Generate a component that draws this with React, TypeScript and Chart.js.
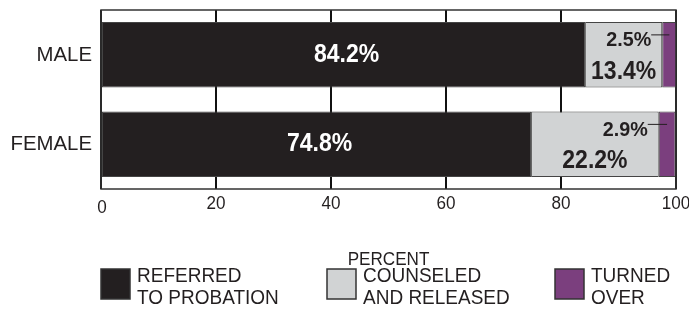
import React, { useEffect, useRef } from "react";
import { Chart, registerables } from "chart.js";

Chart.register(...registerables);

const categories = ["MALE", "FEMALE"];
const seriesNames = ["REFERRED\nTO PROBATION", "COUNSELED\nAND RELEASED", "TURNED\nOVER"];
const referred = [84.2, 74.8];
const counseled = [13.4, 22.2];
const turnedOver = [2.5, 2.9];
const xTicks = [0, 20, 40, 60, 80, 100];
const xTitle = "PERCENT";

const COLORS = ["#231f20", "#d1d3d4", "#7b3f7e"];
const FONT = '"Liberation Sans", Arial, Helvetica, sans-serif';

function txt(
  ctx: CanvasRenderingContext2D,
  s: string,
  x: number,
  y: number,
  size: number,
  bold: boolean,
  color: string,
  align: CanvasTextAlign,
  sx = 1,
  baseline: CanvasTextBaseline = "middle"
) {
  ctx.save();
  ctx.translate(x, y);
  ctx.scale(sx, 1);
  ctx.font = `${bold ? "bold " : ""}${size}px ${FONT}`;
  ctx.fillStyle = color;
  ctx.textAlign = align;
  ctx.textBaseline = baseline;
  ctx.fillText(s, 0, 0);
  ctx.restore();
}

const overlay = {
  id: "overlay",
  afterDatasetsDraw(chart: any) {
    const ctx: CanvasRenderingContext2D = chart.ctx;
    const ca = chart.chartArea;
    // frame
    ctx.save();
    ctx.strokeStyle = "#333";
    ctx.lineWidth = 1.5;
    ctx.strokeRect(ca.left, ca.top, ca.right - ca.left, ca.bottom - ca.top);
    ctx.restore();

    const ys = chart.scales.y;
    const m0 = chart.getDatasetMeta(0);
    const m1 = chart.getDatasetMeta(1);
    const m2 = chart.getDatasetMeta(2);
    categories.forEach((cat, i) => {
      const b0 = m0.data[i];
      const b1 = m1.data[i];
      const b2 = m2.data[i];
      const top = b0.y - b0.height / 2;
      const h = b0.height;
      // category label
      txt(ctx, cat, ca.left - 9, ys.getPixelForValue(i), 21, false, "#231f20", "right", 0.97);
      // main label
      txt(ctx, referred[i].toFixed(1) + "%", (b0.base + b0.x) / 2 + 3, b0.y, 25, true, "#ffffff", "center", 0.92);
      // counseled label
      txt(ctx, counseled[i].toFixed(1) + "%", (b1.base + b1.x) / 2, top + h * 0.76, 25, true, "#231f20", "center", 0.92);
      // turned over label
      const rx = b1.x - 11;
      const ty = top + h * 0.28;
      txt(ctx, turnedOver[i].toFixed(1) + "%", rx, ty, 21, true, "#231f20", "right", 0.94);
      ctx.save();
      ctx.strokeStyle = "#231f20";
      ctx.lineWidth = 1;
      ctx.beginPath();
      ctx.moveTo(rx, ty - 5.5);
      ctx.lineTo((b2.base + b2.x) / 2, ty - 5.5);
      ctx.stroke();
      ctx.restore();
    });
  },
  afterDraw(chart: any) {
    const ctx: CanvasRenderingContext2D = chart.ctx;
    const xs = chart.scales.x;
    const ca = chart.chartArea;
    xTicks.forEach((v) => {
      const px = xs.getPixelForValue(v);
      txt(ctx, String(v), px + (v === 0 ? 1 : 0), v === 0 ? 213 : 209, 18, false, "#231f20", "center", 0.95, "alphabetic");
    });
    txt(ctx, xTitle, (ca.left + ca.right) / 2, 265, 18, false, "#231f20", "center", 0.95, "alphabetic");

    // legend
    const boxX = [101, 327, 555];
    seriesNames.forEach((name, k) => {
      const bx = boxX[k];
      ctx.save();
      ctx.fillStyle = COLORS[k];
      ctx.fillRect(bx, 269, 29, 30);
      ctx.strokeStyle = "#333";
      ctx.lineWidth = 1.5;
      ctx.strokeRect(bx, 269, 29, 30);
      ctx.restore();
      const lines = name.split("\n");
      lines.forEach((ln, j) => {
        txt(ctx, ln, bx + 36, 282 + j * 22, 20, false, "#231f20", "left", 0.95, "alphabetic");
      });
    });
  },
};

export default function App() {
  const ref = useRef<HTMLCanvasElement>(null);
  useEffect(() => {
    document.body.style.margin = "0";
    const canvas = ref.current!;
    const chart = new Chart(canvas, {
      type: "bar",
      data: {
        labels: categories,
        datasets: [
          { label: seriesNames[0], data: referred, backgroundColor: COLORS[0] },
          { label: seriesNames[1], data: counseled, backgroundColor: COLORS[1] },
          { label: seriesNames[2], data: turnedOver, backgroundColor: COLORS[2] },
        ].map((d) => ({
          ...d,
          borderColor: "#444",
          borderWidth: 1,
          borderSkipped: false,
          barPercentage: 0.73,
          categoryPercentage: 1,
        })),
      },
      options: {
        indexAxis: "y",
        responsive: false,
        animation: false,
        devicePixelRatio: 1,
        layout: { padding: { top: 10, right: 13, left: 0, bottom: 0 } },
        plugins: { legend: { display: false }, tooltip: { enabled: false } },
        scales: {
          x: {
            stacked: true,
            min: 0,
            max: 100,
            ticks: { display: false, stepSize: 20 },
            grid: { color: "#111", lineWidth: 2, drawTicks: false },
            border: { display: false },
            afterFit: (s: any) => {
              s.height = 311 - 189;
            },
          },
          y: {
            stacked: true,
            ticks: { display: false },
            grid: { display: false, drawTicks: false },
            border: { display: false },
            afterFit: (s: any) => {
              s.width = 101;
            },
          },
        },
      },
      plugins: [overlay],
    } as any);
    return () => chart.destroy();
  }, []);
  return <canvas ref={ref} width={689} height={311} style={{ display: "block" }} />;
}
